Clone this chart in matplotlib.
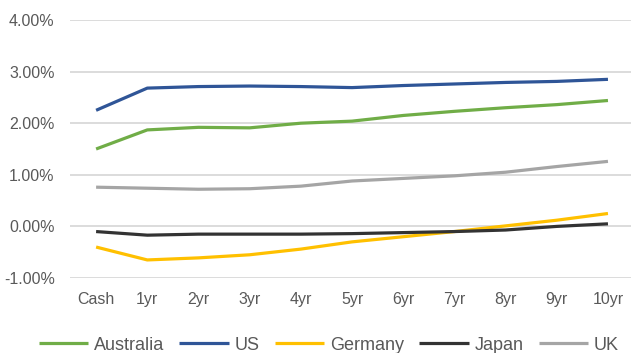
import matplotlib
matplotlib.use("Agg")
import matplotlib.pyplot as plt
from matplotlib.ticker import FuncFormatter

plt.rcParams['font.family'] = ['Liberation Sans', 'DejaVu Sans']

tenors = ["Cash", "1yr", "2yr", "3yr", "4yr", "5yr", "6yr", "7yr", "8yr", "9yr", "10yr"]
australia = [1.50, 1.87, 1.92, 1.91, 2.00, 2.04, 2.15, 2.23, 2.30, 2.36, 2.44]
us = [2.25, 2.68, 2.71, 2.72, 2.71, 2.69, 2.73, 2.76, 2.79, 2.81, 2.85]
germany = [-0.40, -0.65, -0.61, -0.55, -0.44, -0.30, -0.20, -0.10, 0.01, 0.12, 0.25]
japan = [-0.10, -0.17, -0.15, -0.15, -0.15, -0.14, -0.12, -0.10, -0.07, 0.00, 0.05]
uk = [0.76, 0.74, 0.72, 0.73, 0.78, 0.88, 0.93, 0.98, 1.05, 1.16, 1.26]

series = [
    ("Australia", australia, "#70AD47"),
    ("US", us, "#2F5597"),
    ("Germany", germany, "#FFC000"),
    ("Japan", japan, "#333333"),
    ("UK", uk, "#A5A5A5"),
]

fig = plt.figure(figsize=(6.31, 3.53), dpi=100)
ax = fig.add_axes([70 / 631, 1 - 278 / 353, 1 - 70 / 631, (278 - 20) / 353])

x = list(range(len(tenors)))
for name, vals, col in series:
    ax.plot(x, vals, color=col, lw=2.3, label=name, solid_capstyle="butt")

ax.set_xlim(-0.51, 10.45)
ax.set_ylim(-1, 4)
ax.set_yticks([-1, 0, 1, 2, 3, 4])
ax.yaxis.set_major_formatter(FuncFormatter(lambda v, p: f"{v:.2f}%"))
ax.set_xticks(x)
ax.set_xticklabels(tenors)
ax.grid(axis="y", color="#D9D9D9", lw=1.3)
ax.set_axisbelow(True)
for s in ax.spines.values():
    s.set_visible(False)
ax.tick_params(length=0, labelsize=11.5, colors="#595959")
ax.tick_params(axis="y", pad=11)
ax.tick_params(axis="x", pad=10)

fig.legend(loc="center", bbox_to_anchor=(0.521, 1 - 345 / 353), ncol=5, frameon=False,
           fontsize=13, handlelength=2.75, handletextpad=0.3, columnspacing=0.85,
           labelcolor="#595959")

fig.savefig("out.png", dpi=100)
